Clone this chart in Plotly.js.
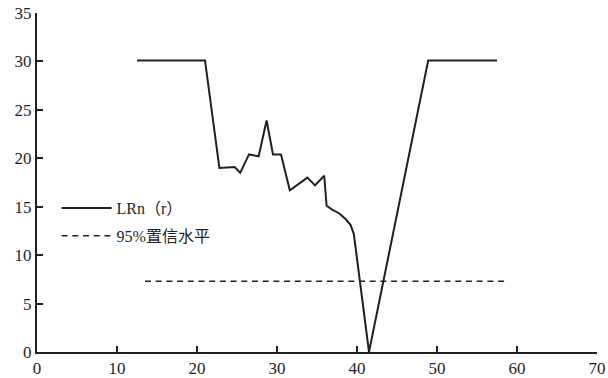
<!DOCTYPE html>
<html>
<head>
<meta charset="utf-8">
<script src="https://cdn.plot.ly/plotly-3.0.1.min.js"></script>
<style>html,body{margin:0;padding:0;background:#fff;}#chart{width:608px;height:378px;}</style>
</head>
<body>
<div id="chart"></div>
<script>
var lrnX = [12.5, 21.0, 22.8, 24.7, 25.4, 26.5, 27.7, 28.7, 29.5, 30.5, 31.6, 33.8, 34.75, 35.9, 36.2, 36.9, 37.8, 38.6, 39.2, 39.6, 41.5, 45.8, 48.9, 57.5];
var lrnY = [30.1, 30.1, 19.0, 19.1, 18.5, 20.4, 20.2, 23.9, 20.4, 20.4, 16.7, 18.0, 17.2, 18.2, 15.1, 14.7, 14.3, 13.7, 13.1, 12.2, 0.0, 17.7, 30.1, 30.1];
var confX = [13.5, 58.9];
var confY = [7.3, 7.3];
var xTicks = [0, 10, 20, 30, 40, 50, 60, 70];
var yTicks = [0, 5, 10, 15, 20, 25, 30, 35];
var names = ["LRn（r）", "95%置信水平"];

var font = "'Liberation Serif', 'Times New Roman', 'Noto Sans CJK SC', serif";
var ink = "#231f20";

var data = [
  {x: lrnX, y: lrnY, mode: "lines", name: names[0], legendgroup: "a", line: {color: ink, width: 2}},
  {x: confX, y: confY, mode: "lines", name: names[1], legendgroup: "b", line: {color: ink, width: 1.6, dash: "6px,4.7px"}}
];
var layout = {
  width: 608, height: 378,
  margin: {l: 37, r: 11, t: 13, b: 26},
  paper_bgcolor: "#ffffff", plot_bgcolor: "#ffffff",
  font: {family: font, size: 16, color: ink},
  showlegend: true,
  legend: {x: 0.035, y: 0.475, xanchor: "left", yanchor: "top", bgcolor: "rgba(0,0,0,0)", itemwidth: 50,
           traceorder: "grouped", tracegroupgap: 4,
           font: {family: font, size: 16, color: ink}},
  xaxis: {range: [0, 70], tickvals: xTicks, ticktext: xTicks.map(String),
    showline: true, linecolor: ink, linewidth: 2, ticks: "inside", ticklen: 6, tickwidth: 1.5, tickcolor: ink,
    showgrid: false, zeroline: false, tickfont: {family: font, size: 17, color: ink}},
  yaxis: {range: [0, 35], tickvals: yTicks, ticktext: yTicks.map(String),
    showline: true, linecolor: ink, linewidth: 2, ticks: "inside", ticklen: 6, tickwidth: 1.5, tickcolor: ink,
    showgrid: false, zeroline: false, tickfont: {family: font, size: 17, color: ink}}
};
Plotly.newPlot("chart", data, layout, {displayModeBar: false});
</script>
</body>
</html>
